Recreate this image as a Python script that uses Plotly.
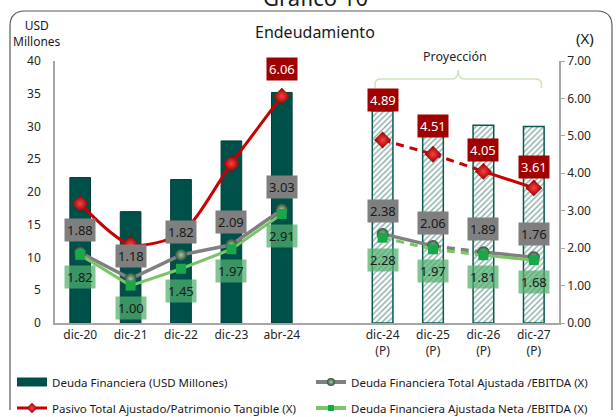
import plotly.graph_objects as go

# ---------------- data ----------------
categories = ["dic-20", "dic-21", "dic-22", "dic-23", "abr-24", " ",
              "dic-24<br>(P)", "dic-25<br>(P)", "dic-26<br>(P)", "dic-27<br>(P)"]
hist_cats = categories[:5]
proj_cats = categories[6:]

deuda_hist = [22.2, 17.0, 21.9, 27.8, 35.2]
deuda_proj = [32.4, 31.4, 30.2, 30.0]

pasivo_hist = [3.19, 2.10, 2.40, 4.26, 6.06]
pasivo_proj = [4.89, 4.51, 4.05, 3.61]
pasivo_hist_labeled = [False, False, False, False, True]

total_hist = [1.88, 1.18, 1.82, 2.09, 3.03]
total_proj = [2.38, 2.06, 1.89, 1.76]

neta_hist = [1.82, 1.00, 1.45, 1.97, 2.91]
neta_proj = [2.28, 1.97, 1.81, 1.68]

# line style of each projected segment
pasivo_seg_dash = ["dash", "dash", "solid"]
total_seg_dash = ["solid", "dash", "solid"]
neta_seg_dash = ["dash", "dash", "solid"]

# label offsets (px) for the red labels
pasivo_hist_shift = [26, 26, 26, 26, 27]
pasivo_proj_shift = [40, 28, 21, 21]

names = {
    "deuda": "Deuda Financiera (USD Millones)",
    "total": "Deuda Financiera Total Ajustada /EBITDA (X)",
    "pasivo": "Pasivo Total Ajustado/Patrimonio Tangible (X)",
    "neta": "Deuda Financiera Ajustada Neta /EBITDA (X)",
}

# ---------------- styles ----------------
FONT = "Noto Sans"
W, H = 616, 417
ML, MR, MT, MB = 55, 57, 61, 94
PW, PH = W - ML - MR, H - MT - MB

BAR = "#00504a"
RED = "#c80000"
RED_DARK = "#8a0000"
GRAY = "#808080"
GREEN = "#7cc46a"
GREEN_MK = "#1aa64a"


def px_x(X):
    return (X - ML) / PW


def px_y(Y):
    return (H - MB - Y) / PH


gray_marker = dict(symbol="circle", size=12, color="#2f4f3a",
                   gradient=dict(type="radial", color="#a8c8aa"), line=dict(width=0))
green_marker = dict(symbol="square", size=10, color=GREEN_MK, line=dict(width=0))
red_marker = dict(symbol="diamond", size=13, color=RED_DARK,
                  gradient=dict(type="radial", color="#ff4040"), line=dict(width=0))

fig = go.Figure()

# bars
fig.add_trace(go.Bar(
    x=hist_cats, y=deuda_hist, name=names["deuda"], width=0.41, showlegend=False,
    marker=dict(color=BAR, line=dict(color="#003c36", width=1)), hoverinfo="skip"))
fig.add_trace(go.Bar(
    x=proj_cats, y=deuda_proj, name=names["deuda"], width=0.41, showlegend=False,
    marker=dict(color="white", line=dict(color="#0c5a4f", width=1.5),
                pattern=dict(shape="/", fgcolor="#0c5a4f", bgcolor="white",
                             size=4, solidity=0.35)),
    hoverinfo="skip"))


def add_series(hist, proj, dashes, color, width, marker, shape):
    fig.add_trace(go.Scatter(
        x=hist_cats, y=hist, yaxis="y2", mode="lines+markers",
        line=dict(color=color, width=width, shape=shape, smoothing=0.8),
        marker=marker, showlegend=False, hoverinfo="skip"))
    for i, d in enumerate(dashes):
        fig.add_trace(go.Scatter(
            x=proj_cats[i:i + 2], y=proj[i:i + 2], yaxis="y2", mode="lines",
            line=dict(color=color, width=width, dash=d if d == "solid" else "8px,6px"),
            showlegend=False, hoverinfo="skip"))
    fig.add_trace(go.Scatter(
        x=proj_cats, y=proj, yaxis="y2", mode="markers", marker=marker,
        showlegend=False, hoverinfo="skip"))


add_series(total_hist, total_proj, total_seg_dash, GRAY, 3.5, gray_marker, "linear")
add_series(neta_hist, neta_proj, neta_seg_dash, GREEN, 3, green_marker, "linear")
add_series(pasivo_hist, pasivo_proj, pasivo_seg_dash, RED, 3, red_marker, "spline")

# legend-only entries (one legend each, laid out in a 2x2 grid)
legend_entries = [
    ("deuda", dict(color=BAR, width=9), None, "legend"),
    ("total", dict(color=GRAY, width=4), dict(gray_marker, size=8), "legend2"),
    ("pasivo", dict(color=RED, width=3), dict(red_marker, size=8), "legend3"),
    ("neta", dict(color=GREEN, width=4), dict(green_marker, size=6), "legend4"),
]
for key, ln, mk, lg in legend_entries:
    fig.add_trace(go.Scatter(
        x=[None], y=[None], yaxis="y2", name=names[key],
        mode="lines+markers" if mk else "lines", line=ln, marker=mk,
        legend=lg, showlegend=True, hoverinfo="skip"))

annotations = []


def label(x, v, shift, bg, fc):
    annotations.append(dict(
        x=x, y=v, xref="x", yref="y2", text=f"{v:.2f}", showarrow=False,
        xanchor="center", yanchor="middle",
        yshift=shift, bgcolor=bg, borderpad=2,
        font=dict(family=FONT, size=13, color=fc)))


for c, v in zip(hist_cats + proj_cats, total_hist + total_proj):
    label(c, v, 23, "#7f7f7f", "#1a1a1a")
for c, v in zip(hist_cats + proj_cats, neta_hist + neta_proj):
    label(c, v, -22, "rgba(80,175,110,0.72)", "#1a1a1a")
for c, v, s, show in zip(hist_cats, pasivo_hist, pasivo_hist_shift, pasivo_hist_labeled):
    if show:
        label(c, v, s, "#a00000", "white")
for c, v, s in zip(proj_cats, pasivo_proj, pasivo_proj_shift):
    label(c, v, s, "#a00000", "white")


def text_at(X, Y, txt, size, color="#1a1a1a"):
    annotations.append(dict(
        x=px_x(X), y=px_y(Y), xref="paper", yref="paper", text=txt,
        showarrow=False, xanchor="center", yanchor="middle",
        font=dict(family=FONT, size=size, color=color)))


text_at(315, 32, "Endeudamiento", 16)
text_at(37, 33, "USD<br>Millones", 12)
text_at(585, 38, "(X)", 15)
text_at(315, -3, "Gráfico 10", 22)
text_at(455, 57, "Proyección", 12.5, "#262626")

# bracket over projection
n = len(categories)
xl = (6 - 0.15 + 0.5) / n
xr = (9 + 0.15 + 0.5) / n
xc = (xl + xr) / 2
yb, yh, yt = px_y(88), px_y(79), px_y(70)
rx, ry = 0.012, 0.02
bracket = (f"M {xl},{yb} L {xl},{yh - ry} Q {xl},{yh} {xl + rx},{yh} "
           f"L {xc - rx},{yh} Q {xc},{yh} {xc},{yt} "
           f"M {xc},{yt} Q {xc},{yh} {xc + rx},{yh} L {xr - rx},{yh} "
           f"Q {xr},{yh} {xr},{yh - ry} L {xr},{yb}")

# outer rounded border
bx0, by0, bx1, by1, r = px_x(10), px_y(11), px_x(612), px_y(425), 15
rxp, ryp = r / PW, r / PH
border = (f"M {bx0},{by1 + ryp} L {bx0},{by0 - ryp} Q {bx0},{by0} {bx0 + rxp},{by0} "
          f"L {bx1 - rxp},{by0} Q {bx1},{by0} {bx1},{by0 - ryp} L {bx1},{by1 + ryp}")

legend_common = dict(orientation="h", xanchor="left", yanchor="middle",
                     bgcolor="rgba(0,0,0,0)", font=dict(size=11.5, color="#1a1a1a"))

fig.update_layout(
    width=W, height=H,
    margin=dict(l=ML, r=MR, t=MT, b=MB, pad=0, autoexpand=False),
    paper_bgcolor="white", plot_bgcolor="white",
    font=dict(family=FONT, size=12, color="#262626"),
    barmode="overlay",
    xaxis=dict(type="category", categoryorder="array", categoryarray=categories,
               range=[-0.5, n - 0.5], showline=True, linecolor="#a6a6a6", linewidth=1.5,
               ticks="", showgrid=False, tickfont=dict(size=12, color="#262626")),
    yaxis=dict(range=[0, 40], dtick=5, showgrid=False, zeroline=False, showline=True,
               linecolor="#a6a6a6", linewidth=1.5, ticks="", ticklabelstandoff=10,
               tickfont=dict(size=12, color="#262626")),
    yaxis2=dict(range=[0, 7], dtick=1, tickformat=".2f", overlaying="y", side="right",
                showgrid=False, zeroline=False, showline=True, linecolor="#a6a6a6",
                linewidth=1.5, ticks="outside", ticklen=4, tickcolor="#a6a6a6",
                tickfont=dict(size=12, color="#262626")),
    legend=dict(legend_common, x=px_x(12), y=px_y(382)),
    legend2=dict(legend_common, x=px_x(311), y=px_y(382)),
    legend3=dict(legend_common, x=px_x(12), y=px_y(408)),
    legend4=dict(legend_common, x=px_x(311), y=px_y(408)),
    shapes=[
        dict(type="path", path=bracket, xref="paper", yref="paper",
             line=dict(color="#cfe3b8", width=1.5)),
        dict(type="path", path=border, xref="paper", yref="paper",
             line=dict(color="#595959", width=1.2)),
    ],
    annotations=annotations,
    showlegend=True,
)

fig.write_html("out.html", config={"displayModeBar": False},
               post_script="document.body.style.margin='0';document.body.style.overflow='hidden';")
